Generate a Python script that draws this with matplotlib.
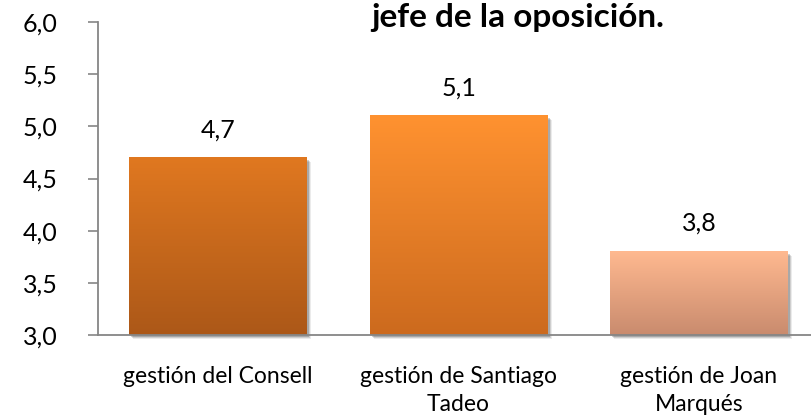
import numpy as np
import matplotlib
matplotlib.use("Agg")
import matplotlib.pyplot as plt
import matplotlib.transforms as mtransforms
from matplotlib.colors import LinearSegmentedColormap
from matplotlib.patches import Rectangle

categories = ["gestión del Consell", "gestión de Santiago\nTadeo", "gestión de Joan\nMarqués"]
values = [4.7, 5.1, 3.8]
value_labels = ["4,7", "5,1", "3,8"]
yticks = [3.0, 3.5, 4.0, 4.5, 5.0, 5.5, 6.0]
ytick_labels = ["3,0", "3,5", "4,0", "4,5", "5,0", "5,5", "6,0"]
title = "jefe de la oposición."
top_colors = ["#E07820", "#FF9230", "#FFB990"]
bottom_colors = ["#AC5818", "#CC6A1E", "#C98B6E"]

plt.rcParams['font.family'] = ['Lato', 'DejaVu Sans']

fig = plt.figure(figsize=(8.12, 4.2), dpi=100)
ax = fig.add_axes([98/812, (420-335)/420, (812-98)/812, (335-22)/420])
ymin, ymax = 3.0, 6.0
width = 0.74
x = np.arange(len(categories))

for i, v in enumerate(values):
    # shadow
    for k, a in zip([4, 3, 2], [0.08, 0.12, 0.18]):
        tr = mtransforms.offset_copy(ax.transData, fig=fig, x=k, y=-k, units='dots')
        ax.add_patch(Rectangle((x[i] - width/2, ymin), width, v - ymin, transform=tr,
                               facecolor='#000000', alpha=a, edgecolor='none', zorder=1, clip_on=False))
    cmap = LinearSegmentedColormap.from_list("g%d" % i, [bottom_colors[i], top_colors[i]])
    grad = np.linspace(0, 1, 256).reshape(-1, 1)
    ax.imshow(grad, cmap=cmap, origin='lower', aspect='auto',
              extent=(x[i] - width/2, x[i] + width/2, ymin, v), zorder=2)
    ax.annotate(value_labels[i], (x[i], v), xytext=(0, 28), textcoords='offset pixels',
                ha='center', va='center', fontsize=18, color='#000000')

ax.set_ylim(ymin, ymax)
ax.set_xlim(-0.5, 2.47)
ax.set_yticks(yticks)
ax.set_yticklabels(ytick_labels, fontsize=18)
ax.set_xticks(x)
ax.set_xticklabels(categories, fontsize=16.5, linespacing=1.45)
ax.tick_params(axis='x', length=0, pad=22)
ax.tick_params(axis='y', length=7, color='#868686', width=1.2, pad=22)
for s in ['top', 'right']:
    ax.spines[s].set_visible(False)
for s in ['left', 'bottom']:
    ax.spines[s].set_color('#868686')
    ax.spines[s].set_linewidth(1.3)
ax.spines['bottom'].set_zorder(3)

fig.text(518/812, 1 - 27/420, title, ha='center', va='baseline', fontsize=24, fontweight='bold')

fig.savefig("out.png", dpi=100)
